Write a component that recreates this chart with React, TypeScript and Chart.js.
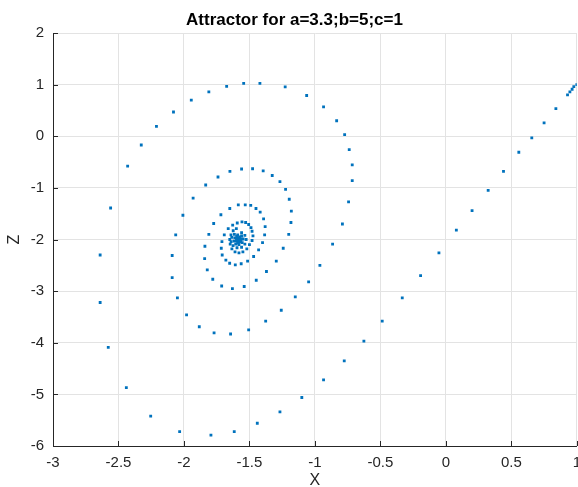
import React, { useEffect, useRef } from "react";
import { Chart, registerables } from "chart.js";

Chart.register(...registerables);

const titleText = "Attractor for a=3.3;b=5;c=1";
const xLabel = "X";
const zLabel = "Z";

const xTicks = [-3, -2.5, -2, -1.5, -1, -0.5, 0, 0.5, 1];
const zTicks = [-6, -5, -4, -3, -2, -1, 0, 1, 2];

const xValues = [
  1.0, 0.977, 0.964, 0.947, 0.929, 0.84, 0.75, 0.656, 0.557, 0.44, 0.323, 0.2, 0.08,
  -0.053, -0.193, -0.333, -0.486, -0.626, -0.776, -0.934, -1.1, -1.267, -1.44, -1.616,
  -1.794, -2.033, -2.254, -2.44, -2.578, -2.64, -2.64, -2.56, -2.43, -2.326, -2.21, -2.08,
  -1.944, -1.81, -1.674, -1.544, -1.42, -1.227, -1.063, -0.934, -0.834, -0.773, -0.738,
  -0.715, -0.715, -0.743, -0.79, -0.865, -0.962, -1.048, -1.15, -1.257, -1.376, -1.506,
  -1.644, -1.77, -1.883, -1.98, -2.05, -2.09, -2.09, -2.063, -2.008, -1.93, -1.834, -1.74,
  -1.649, -1.56, -1.476, -1.395, -1.326, -1.267, -1.224, -1.196, -1.18, -1.183, -1.2,
  -1.242, -1.295, -1.37, -1.448, -1.54, -1.63, -1.712, -1.78, -1.822, -1.842, -1.84, -1.81,
  -1.773, -1.718, -1.65, -1.585, -1.532, -1.49, -1.45, -1.418, -1.392, -1.38, -1.384, -1.4,
  -1.43, -1.468, -1.514, -1.563, -1.608, -1.651, -1.68, -1.708, -1.715, -1.71, -1.692,
  -1.662, -1.628,
  -1.593, -1.557, -1.529, -1.506, -1.488, -1.48, -1.473, -1.48, -1.5, -1.52, -1.55, -1.58,
  -1.61, -1.634, -1.647, -1.65, -1.641, -1.624, -1.6,
  -1.56, -1.535, -1.525, -1.535, -1.56, -1.595, -1.625, -1.64, -1.635, -1.615,
  -1.59, -1.56, -1.548, -1.555, -1.58, -1.605, -1.618, -1.612, -1.597,
  -1.575, -1.562, -1.567, -1.585, -1.6, -1.598, -1.588,
  -1.58, -1.585, -1.582, -1.584, -1.572, -1.592, -1.578, -1.59, -1.57, -1.596,
];

const zValues = [
  1.0, 0.96, 0.91, 0.86, 0.8, 0.535, 0.26, -0.03, -0.31, -0.68, -1.05, -1.44, -1.82,
  -2.26, -2.7, -3.13, -3.58, -3.97, -4.35, -4.72, -5.06, -5.34, -5.56, -5.72,
  -5.79, -5.72, -5.42, -4.87, -4.09, -3.22, -2.3, -1.39, -0.58, -0.17, 0.19, 0.47,
  0.7, 0.86, 0.967, 1.025, 1.025, 0.955, 0.79, 0.568, 0.3, 0.03, -0.26,
  -0.556, -0.86, -1.27, -1.7, -2.09, -2.5, -2.82, -3.11, -3.37, -3.58, -3.75,
  -3.83, -3.81, -3.69, -3.46, -3.13, -2.74, -2.31, -1.91, -1.53, -1.2, -0.944, -0.79,
  -0.68, -0.634, -0.63, -0.67, -0.76, -0.88, -1.03, -1.22, -1.45, -1.67, -1.9,
  -2.17, -2.42, -2.62, -2.79, -2.91, -2.95, -2.9, -2.77, -2.59, -2.37, -2.13, -1.9,
  -1.69, -1.52, -1.4, -1.33, -1.33, -1.34, -1.4, -1.47, -1.6, -1.75, -1.91, -2.06,
  -2.2, -2.33, -2.42, -2.47, -2.49, -2.46, -2.4, -2.3, -2.17, -2.04, -1.91,
  -1.79, -1.72,
  -1.68, -1.66, -1.67, -1.71, -1.77, -1.84, -1.93, -2.02, -2.1, -2.18, -2.24, -2.26,
  -2.24, -2.18, -2.09, -2.0, -1.91, -1.83, -1.79,
  -1.87, -1.92, -2.0, -2.09, -2.15, -2.16, -2.12, -2.04, -1.96, -1.9,
  -1.91, -1.93, -1.99, -2.06, -2.1, -2.09, -2.03, -1.97, -1.94,
  -1.95, -1.99, -2.04, -2.06, -2.03, -1.99, -1.97,
  -2.0, -2.01, -2.02, -2.015, -1.96, -1.98, -2.05, -2.07, -2.02, -2.0,
];

const FONT = "'Liberation Sans', Arial, Helvetica, sans-serif";
const AXIS_DARK = "#262626";
const GRID = "#e3e3e3";

const innerTicks = {
  id: "innerTicks",
  afterDraw(chart: any) {
    const { ctx, chartArea } = chart;
    const xs = chart.scales.x;
    const ys = chart.scales.y;
    ctx.save();
    ctx.strokeStyle = AXIS_DARK;
    ctx.lineWidth = 1;
    ctx.beginPath();
    xTicks.forEach((v) => {
      const px = Math.round(xs.getPixelForValue(v)) + 0.5;
      ctx.moveTo(px, chartArea.bottom);
      ctx.lineTo(px, chartArea.bottom - 5);
    });
    zTicks.forEach((v) => {
      const py = Math.round(ys.getPixelForValue(v)) + 0.5;
      ctx.moveTo(chartArea.left, py);
      ctx.lineTo(chartArea.left + 5, py);
    });
    ctx.stroke();
    ctx.restore();
  },
};

export default function App() {
  const ref = useRef<HTMLCanvasElement | null>(null);

  useEffect(() => {
    if (!ref.current) return;
    const points = xValues.map((x, i) => ({ x, y: zValues[i] }));
    const chart = new Chart(ref.current, {
      type: "scatter",
      data: {
        datasets: [
          {
            data: points,
            backgroundColor: "#0072BD",
            borderColor: "#0072BD",
            borderWidth: 0,
            pointStyle: "rect",
            pointRadius: 2,
            pointHoverRadius: 2,
            showLine: false,
          },
        ],
      },
      options: {
        responsive: false,
        animation: false,
        devicePixelRatio: 1,
        layout: { padding: 0 },
        plugins: {
          legend: { display: false },
          tooltip: { enabled: false },
          title: {
            display: true,
            text: titleText,
            color: "#000000",
            font: { family: FONT, size: 17, weight: "bold" },
            padding: { top: 10, bottom: 2.6 },
          },
        },
        scales: {
          x: {
            type: "linear",
            min: -3,
            max: 1,
            afterBuildTicks: (scale: any) => {
              scale.ticks = xTicks.map((v) => ({ value: v }));
            },
            afterFit: (scale: any) => {
              scale.height = 41;
            },
            ticks: {
              color: AXIS_DARK,
              font: { family: FONT, size: 15 },
              padding: 8,
              maxRotation: 0,
              autoSkip: false,
              callback: (v: any) => String(v),
            },
            grid: { color: GRID, drawTicks: false, lineWidth: 1 },
            border: { display: true, color: AXIS_DARK, width: 1 },
            title: {
              display: true,
              text: xLabel,
              color: AXIS_DARK,
              font: { family: FONT, size: 16 },
              padding: { top: 0, bottom: -3.5 },
            },
          },
          y: {
            type: "linear",
            min: -6,
            max: 2,
            afterBuildTicks: (scale: any) => {
              scale.ticks = zTicks.map((v) => ({ value: v }));
            },
            afterFit: (scale: any) => {
              scale.width = 53;
            },
            ticks: {
              color: AXIS_DARK,
              font: { family: FONT, size: 15 },
              padding: 9,
              autoSkip: false,
              callback: (v: any) => String(v),
            },
            grid: { color: GRID, drawTicks: false, lineWidth: 1 },
            border: { display: true, color: AXIS_DARK, width: 1 },
            title: {
              display: true,
              text: zLabel,
              color: AXIS_DARK,
              font: { family: FONT, size: 16 },
              padding: { top: 5, bottom: 0 },
            },
          },
        },
      },
      plugins: [innerTicks],
    });
    return () => chart.destroy();
  }, []);

  return (
    <div
      style={{
        position: "fixed",
        left: 0,
        top: 0,
        width: 578,
        height: 487,
        overflow: "hidden",
        background: "#ffffff",
      }}
    >
      <canvas ref={ref} width={589} height={487} style={{ display: "block" }} />
    </div>
  );
}
